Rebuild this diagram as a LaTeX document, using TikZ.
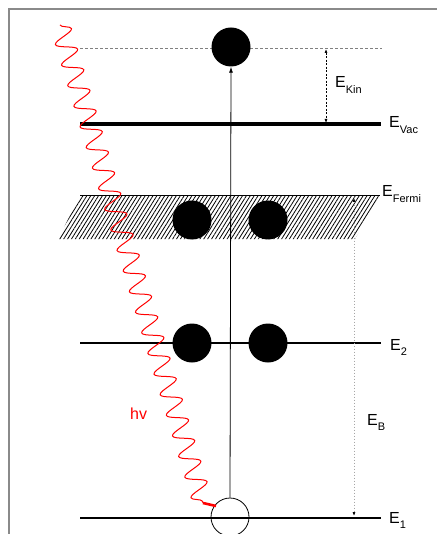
\documentclass[tikz,border=0pt]{standalone}
\usepackage{fontspec}
\setmainfont{Liberation Sans}
\usetikzlibrary{arrows.meta, positioning, decorations.pathmorphing, patterns.meta}
\definecolor{framegray}{HTML}{8A8A8A}
\definecolor{photonred}{HTML}{FF0000}
\definecolor{guidegray}{HTML}{808080}
\newcommand{\lsub}[1]{\raisebox{-5.5pt}{\fontsize{11}{12}\selectfont #1}}

\begin{document}
\begin{tikzpicture}[x=1pt, y=-1pt,
  every node/.style={font=\fontsize{16}{18}\selectfont},
  level/.style={line width=2pt},
  electron/.style={circle, fill=black, minimum size=39pt, inner sep=0pt},
  hole/.style={circle, draw, line width=0.8pt, minimum size=38pt, inner sep=0pt},
  elabel/.style={anchor=base west, inner sep=0pt},
  gap/.style={line width=0.7pt, dash pattern=on 2pt off 1.5pt, {Latex[length=4pt,width=3pt]}-{Latex[length=4pt,width=3pt]}},
  photon/.style={draw=photonred, line width=1pt, decorate,
                 decoration={snake, amplitude=10pt, segment length=21.5pt}}
]
  \useasboundingbox (0,0) rectangle (436,534);
  \draw[framegray, line width=1.5pt] (9,9) rectangle (445,545);

  % levels
  \draw[guidegray, line width=0.8pt, dash pattern=on 3pt off 2pt] (80,48) -- (382,48);
  \draw[line width=4pt] (80,124) -- (381,124);
  \fill[pattern={Lines[angle=58, distance=3.3pt, line width=0.8pt]}]
    (80,196) -- (380,196) -- (355,239) -- (58,239) -- cycle;
  \draw[line width=1pt] (80,196) -- (380,196);
  \draw[level] (80,343) -- (381,343);
  \draw[level] (80,518) -- (381,518);

  % energy gaps
  \coordinate (kin-top) at (326,49);
  \coordinate (kin-bot) at (326,123);
  \coordinate (b-top) at (354,198);
  \coordinate (b-bot) at (354,516);
  \draw[gap] (kin-top) -- (kin-bot);
  \draw[guidegray!70, line width=0.7pt, dash pattern=on 1.5pt off 1.5pt, {Latex[length=4pt,width=3pt,color=black]}-{Latex[length=4pt,width=3pt,color=black]}]
    (b-top) -- (b-bot);

  % electrons
  \node[electron] (free) at (231,47) {};
  \node[electron] (f1) at (192,220) {};
  \node[electron] (f2) at (268,220) {};
  \node[electron] (c1) at (192,343) {};
  \node[electron] (c2) at (268,343) {};
  \node[hole] (core) at (230,517) {};
  \draw[line width=0.8pt, -{Latex[length=6pt,width=4pt]}] (core.north) -- (free.south);

  % photon
  \coordinate (ph-start) at (60,25);
  \coordinate (ph-end) at (203,503);
  \coordinate (ph-tip) at (216,506);
  \draw[photon] (ph-start) -- (ph-end);
  \draw[photonred, line width=2.6pt] (ph-end) -- (ph-tip);
  \node[elabel, text=photonred] (hv) at (130,419) {hv};

  % labels
  \node[elabel] (lkin) at (335,88) {E\lsub{Kin}};
  \node[elabel] (lvac) at (389,128) {E\lsub{Vac}};
  \node[elabel] (lfermi) at (382,197) {E\lsub{Fermi}};
  \node[elabel] (l2) at (390,350) {E\lsub{2}};
  \node[elabel] (lb) at (367,425) {E\lsub{B}};
  \node[elabel] (l1) at (389,523) {E\lsub{1}};
\end{tikzpicture}
\end{document}
